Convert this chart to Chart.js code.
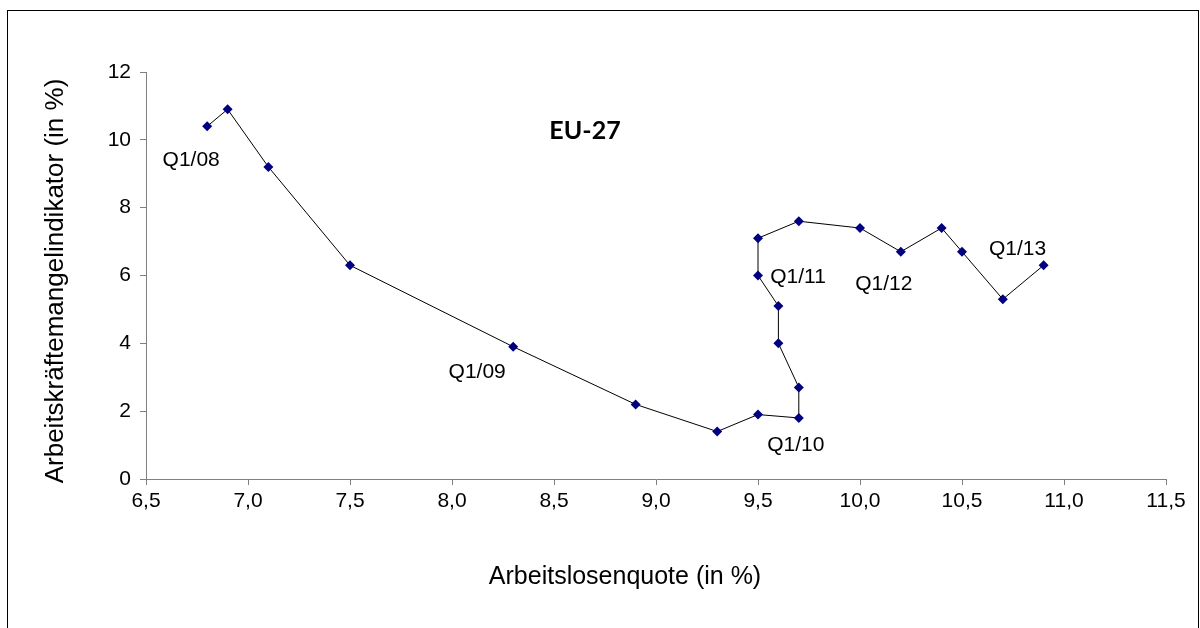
<!DOCTYPE html>
<html>
<head>
<meta charset="utf-8">
<script src="https://cdn.jsdelivr.net/npm/chart.js@4/dist/chart.umd.min.js"></script>
<style>
  html, body { margin: 0; padding: 0; background: #fff; }
  #wrap { width: 1200px; height: 628px; position: relative; }
</style>
</head>
<body>
<div id="wrap"><canvas id="chart" width="1200" height="628"></canvas></div>
<script>
// Quarters Q1/08 .. Q1/13
const quarters = ["Q1/08","Q2/08","Q3/08","Q4/08","Q1/09","Q2/09","Q3/09","Q4/09",
  "Q1/10","Q2/10","Q3/10","Q4/10","Q1/11","Q2/11","Q3/11","Q4/11",
  "Q1/12","Q2/12","Q3/12","Q4/12","Q1/13"];
// Arbeitslosenquote (in %)
const unemployment = [6.8, 6.9, 7.1, 7.5, 8.3, 8.9, 9.3, 9.5,
  9.7, 9.7, 9.6, 9.6, 9.5, 9.5, 9.7, 10.0,
  10.2, 10.4, 10.5, 10.7, 10.9];
// Arbeitskräftemangelindikator (in %)
const shortage = [10.4, 10.9, 9.2, 6.3, 3.9, 2.2, 1.4, 1.9,
  1.8, 2.7, 4.0, 5.1, 6.0, 7.1, 7.6, 7.4,
  6.7, 7.4, 6.7, 5.3, 6.3];
const labelledQuarters = ["Q1/08","Q1/09","Q1/10","Q1/11","Q1/12","Q1/13"];
const xTicks = [6.5, 7.0, 7.5, 8.0, 8.5, 9.0, 9.5, 10.0, 10.5, 11.0, 11.5];
const yTicks = [0, 2, 4, 6, 8, 10, 12];
const xTitle = "Arbeitslosenquote (in %)";
const yTitle = "Arbeitskräftemangelindikator (in %)";

// where each quarter label sits relative to its point (px)
const labelOffsets = {
  "Q1/08": [-16, 34], "Q1/09": [-36, 25], "Q1/10": [-3, 27],
  "Q1/11": [40, 2], "Q1/12": [-17, 32], "Q1/13": [-26, -16]
};

const frame = {
  id: "frame",
  beforeDraw(chart) {
    const ctx = chart.ctx;
    ctx.save();
    ctx.fillStyle = "#fff";
    ctx.fillRect(0, 0, chart.width, chart.height);
    ctx.strokeStyle = "#000";
    ctx.lineWidth = 1;
    ctx.strokeRect(7.5, 10.5, 1191, 700);
    ctx.restore();
  }
};

const texts = {
  id: "texts",
  afterDatasetsDraw(chart) {
    const ctx = chart.ctx;
    const meta = chart.getDatasetMeta(0);
    const area = chart.chartArea;
    ctx.save();
    ctx.fillStyle = "#000";
    ctx.textAlign = "center";
    ctx.textBaseline = "middle";

    ctx.font = "21px 'Liberation Sans', Arial, sans-serif";
    labelledQuarters.forEach(q => {
      const i = quarters.indexOf(q);
      const pt = meta.data[i];
      const off = labelOffsets[q];
      ctx.fillText(q, pt.x + off[0], pt.y + off[1]);
    });

    // chart title inside plot area
    ctx.font = "bold 25px Lato, 'Open Sans', sans-serif";
    ctx.fillText("EU-27", area.left + 439, area.top + 59);

    // axis titles
    ctx.font = "25px 'Liberation Sans', Arial, sans-serif";
    ctx.fillText(xTitle, 625, 577);
    ctx.font = "26px 'Liberation Sans', Arial, sans-serif";
    ctx.translate(56, 281);
    ctx.rotate(-Math.PI / 2);
    ctx.fillText(yTitle, 0, 0);
    ctx.restore();
  }
};

const tickFont = { family: "'Liberation Sans', Arial, sans-serif", size: 21 };

new Chart(document.getElementById("chart"), {
  type: "scatter",
  data: {
    datasets: [{
      label: "EU-27",
      data: unemployment.map((x, i) => ({ x: x, y: shortage[i] })),
      showLine: true,
      borderColor: "#000",
      borderWidth: 1,
      pointStyle: "rectRot",
      pointRadius: 5,
      pointHoverRadius: 5,
      pointBackgroundColor: "#000080",
      pointBorderColor: "#000080",
      pointBorderWidth: 0
    }]
  },
  options: {
    responsive: false,
    animation: false,
    events: [],
    layout: { padding: { top: 72, right: 34, left: 0, bottom: 0 } },
    plugins: { legend: { display: false }, tooltip: { enabled: false } },
    scales: {
      x: {
        type: "linear",
        min: 6.5,
        max: 11.5,
        afterBuildTicks: s => { s.ticks = xTicks.map(v => ({ value: v })); },
        afterFit: s => { s.height = 149; },
        ticks: {
          color: "#000",
          font: tickFont,
          padding: 4,
          maxRotation: 0,
          callback: v => v.toFixed(1).replace(".", ",")
        },
        grid: { drawOnChartArea: false, drawTicks: true, tickLength: 6, color: "#808080" },
        border: { color: "#808080", width: 1 }
      },
      y: {
        type: "linear",
        min: 0,
        max: 12,
        afterBuildTicks: s => { s.ticks = yTicks.map(v => ({ value: v })); },
        afterFit: s => { s.width = 146; },
        ticks: { color: "#000", font: tickFont, padding: 9 },
        grid: { drawOnChartArea: false, drawTicks: true, tickLength: 6, color: "#808080" },
        border: { color: "#808080", width: 1 }
      }
    }
  },
  plugins: [frame, texts]
});
</script>
</body>
</html>
